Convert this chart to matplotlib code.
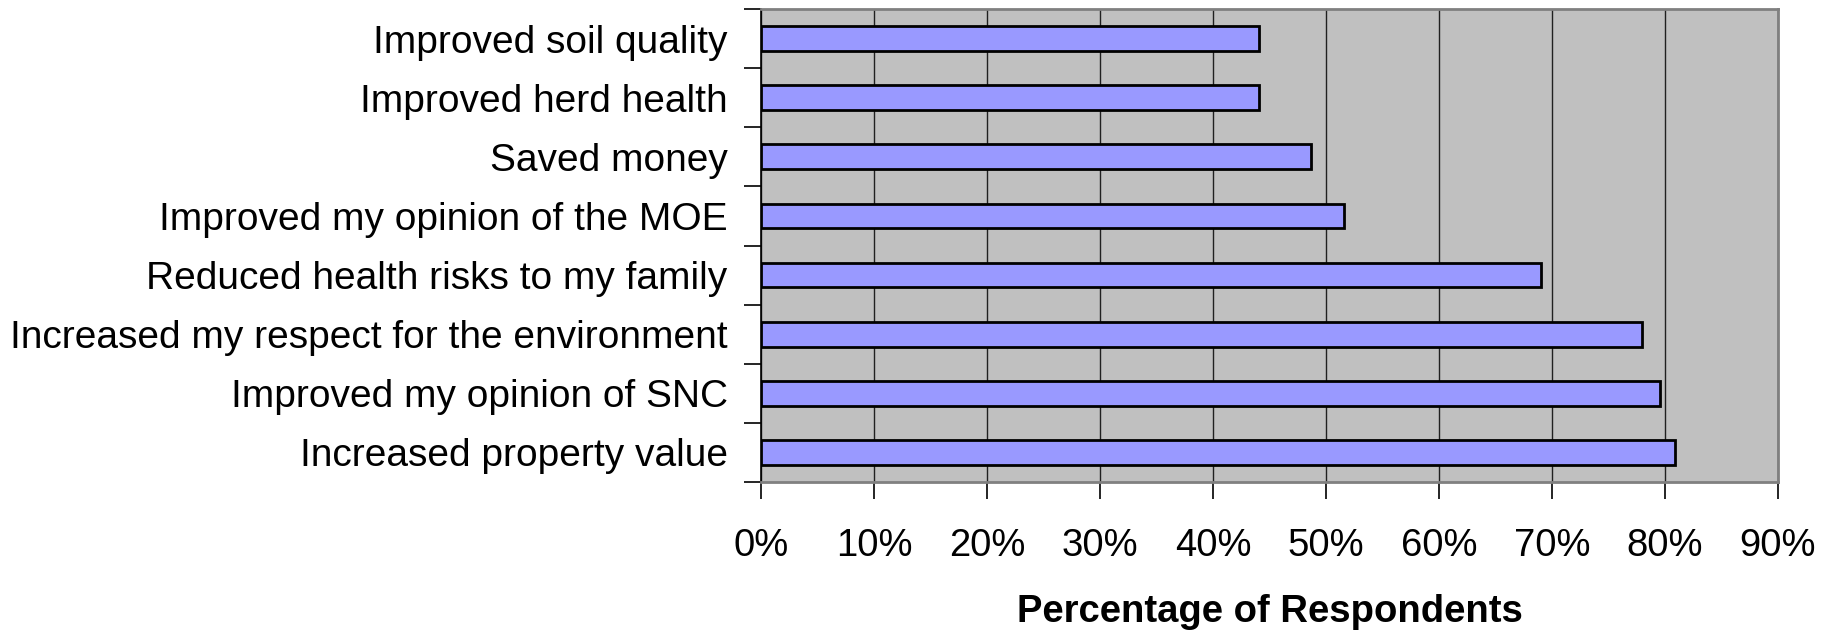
import matplotlib.pyplot as plt
from matplotlib.ticker import FuncFormatter

plt.rcParams["font.family"] = ["Liberation Sans", "DejaVu Sans"]

categories = [
    "Improved soil quality",
    "Improved herd health",
    "Saved money",
    "Improved my opinion of the MOE",
    "Reduced health risks to my family",
    "Increased my respect for the environment",
    "Improved my opinion of SNC",
    "Increased property value",
]
percent = [44.1, 44.1, 48.7, 51.6, 69.0, 78.0, 79.6, 80.9]
x_ticks = [0, 10, 20, 30, 40, 50, 60, 70, 80, 90]

fig = plt.figure(figsize=(18.33, 6.33), dpi=100)
ax = fig.add_axes([761 / 1833, 1 - 482 / 633, 1017 / 1833, 473 / 633])
ax.set_facecolor("#C0C0C0")

y = list(range(len(categories)))
ax.barh(y, percent, height=0.42, color="#9999FF", edgecolor="black",
        linewidth=2.0, zorder=3)

ax.set_xlim(0, 90)
ax.set_ylim(len(categories) - 0.5, -0.5)
ax.set_xticks(x_ticks)
ax.xaxis.set_major_formatter(FuncFormatter(lambda v, _: f"{v:.0f}%"))
# category separators as major ticks, names as minor ticks at bar centres
ax.set_yticks([i + 0.5 for i in range(-1, len(categories))])
ax.set_yticklabels([""] * (len(categories) + 1))
ax.set_yticks(y, minor=True)
ax.set_yticklabels(categories, minor=True)
ax.tick_params(axis="y", which="minor", length=0, pad=24, labelsize=28)
ax.tick_params(axis="y", which="major", length=12, width=1.2, direction="out")
ax.tick_params(axis="x", length=12, width=1.2, direction="out", pad=21,
               labelsize=27.5)

ax.grid(axis="x", color="#202020", linewidth=1.0, zorder=1)
ax.set_axisbelow(True)

for side in ["top", "right", "bottom"]:
    ax.spines[side].set_color("#808080")
    ax.spines[side].set_linewidth(2)
ax.spines["left"].set_color("black")
ax.spines["left"].set_linewidth(1.2)

ax.set_xlabel("Percentage of Respondents", fontsize=27.5, fontweight="bold",
              labelpad=22)

fig.savefig("out.png", dpi=100)
